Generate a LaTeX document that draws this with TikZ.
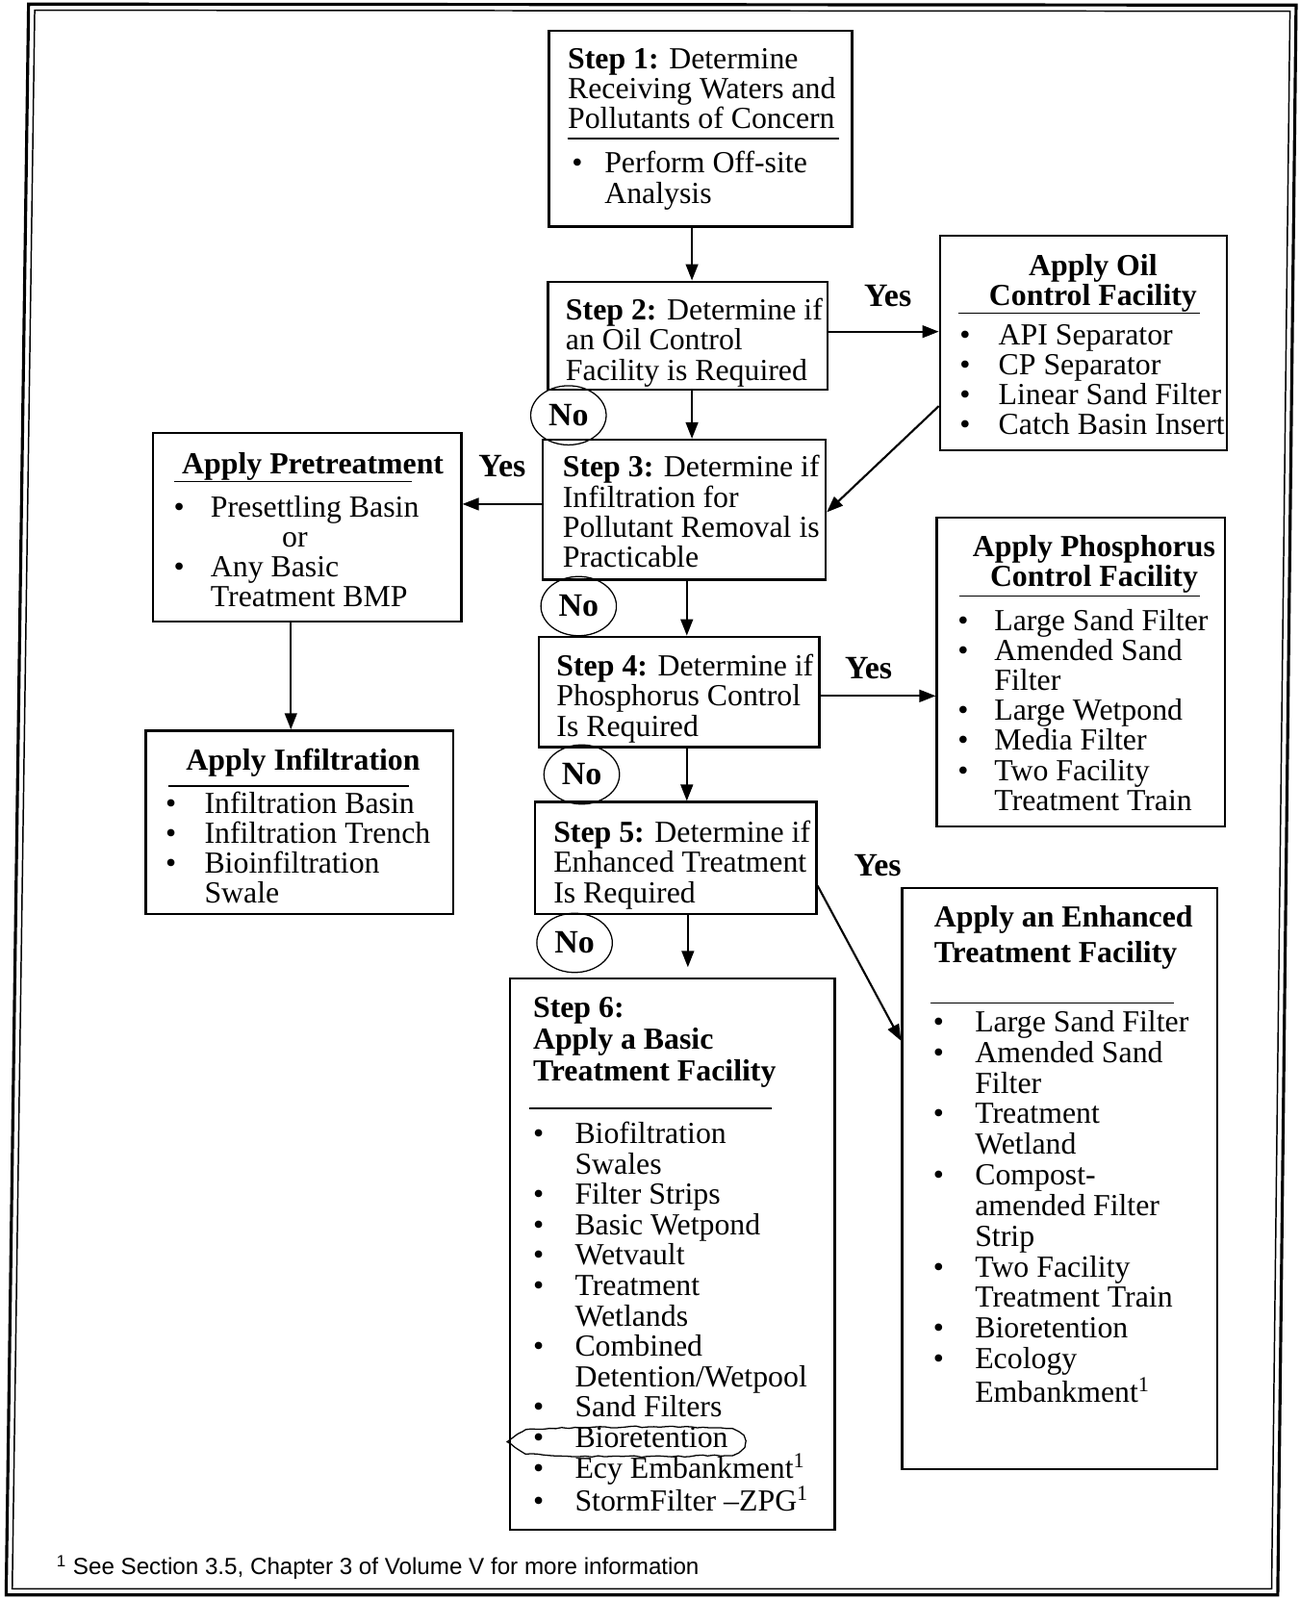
\documentclass[tikz,border=0pt]{standalone}
\usepackage{fontspec}
\setmainfont{Liberation Serif}
\setsansfont{Liberation Sans}
\usetikzlibrary{arrows.meta,shapes.geometric,fit,decorations.pathmorphing}
\newcommand{\itemdot}[1][18pt]{\makebox[#1][l]{\textbullet}}
\newcommand{\itemgap}[1][18pt]{\hspace*{#1}}
\tikzset{
  >={Triangle[length=8pt,width=6pt]},
  frame/.style={draw,line width=1.1pt,inner sep=0pt},
  txt/.style={anchor=north west,inner sep=0pt,align=left,font=\fontsize{15}{14.75}\selectfont},
  head/.style={txt,font=\bfseries\fontsize{15}{14.75}\selectfont},
  flow/.style={->,line width=1pt},
  sep/.style={line width=0.8pt},
  yes/.style={font=\bfseries\fontsize{16}{16}\selectfont,inner sep=0pt},
  nocirc/.style={draw,ellipse,line width=0.6pt,minimum width=37pt,minimum height=29pt,inner sep=0pt,font=\bfseries\fontsize{16}{16}\selectfont}
}
\begin{document}
\begin{tikzpicture}[x=0.5pt,y=-0.5pt]
\useasboundingbox (0,0) rectangle (1273,1568);
% page frame
\draw[line width=1.5pt] (28,4) -- (1270,5) -- (1252,1563) -- (6,1563) -- cycle;
\draw[line width=0.7pt] (34,10) -- (1264,11) -- (1246,1557) -- (12,1557) -- cycle;

% steps down the middle
\node[frame,fit={(538,30)(835,222)}](s1){};
\node[txt](s1head) at (556,47) {\textbf{Step 1:} Determine\\Receiving Waters and\\Pollutants of Concern};
\draw[sep] (556,136) -- (822,136);
\node[txt](s1list) at (560,148) {\itemdot[16pt]Perform Off-site\\\itemgap[16pt]Analysis};

\node[frame,fit={(537,276)(811,382)}](s2){};
\node[txt](s2txt) at (554,292) {\textbf{Step 2:} Determine if\\an Oil Control\\Facility is Required};

\node[frame,fit={(532,431)(809,568)}](s3){};
\node[txt](s3txt) at (551,446) {\textbf{Step 3:} Determine if\\Infiltration for\\Pollutant Removal is\\Practicable};

\node[frame,fit={(528,624)(803,732)}](s4){};
\node[txt](s4txt) at (545,641) {\textbf{Step 4:} Determine if\\Phosphorus Control\\Is Required};

\node[frame,fit={(524,786)(800,896)}](s5){};
\node[txt](s5txt) at (542,804) {\textbf{Step 5:} Determine if\\Enhanced Treatment\\Is Required};

\node[frame,fit={(500,959)(818,1499)}](s6){};
\node[head,font=\bfseries\fontsize{15}{15.5}\selectfont](s6head) at (522,977) {Step 6:\\Apply a Basic\\Treatment Facility};
\draw[sep] (519,1086) -- (756,1086);
\node[txt,font=\fontsize{15}{14.9}\selectfont](s6list) at (522,1099) {\itemdot[20.5pt]Biofiltration\\\itemgap[20.5pt]Swales\\
  \itemdot[20.5pt]Filter Strips\\\itemdot[20.5pt]Basic Wetpond\\\itemdot[20.5pt]Wetvault\\
  \itemdot[20.5pt]Treatment\\\itemgap[20.5pt]Wetlands\\\itemdot[20.5pt]Combined\\\itemgap[20.5pt]Detention/Wetpool\\
  \itemdot[20.5pt]Sand Filters\\\itemdot[20.5pt]Bioretention\\\itemdot[20.5pt]Ecy Embankment\textsuperscript{1}\\
  \itemdot[20.5pt]StormFilter --ZPG\textsuperscript{1}};
\draw[line width=0.6pt,decorate,decoration={random steps,segment length=3pt,amplitude=0.4pt}]
  (497,1413) -- (515,1401) .. controls (600,1397) and (680,1398) .. (712,1400)
  .. controls (735,1402) and (735,1424) .. (712,1426) .. controls (650,1428) and (560,1428) .. (515,1425) -- cycle;

% facilities on the right
\node[frame,fit={(921,231)(1202,441)}](oil){};
\node[head,anchor=north,align=center,font=\bfseries\fontsize{15}{14.5}\selectfont](oilhead) at (1071,249) {Apply Oil\\Control Facility};
\draw[sep] (939,307) -- (1176,307);
\node[txt,font=\fontsize{15}{14.5}\selectfont](oillist) at (940,318) {\itemdot[19pt]API Separator\\\itemdot[19pt]CP Separator\\
  \itemdot[19pt]Linear Sand Filter\\\itemdot[19pt]Catch Basin Insert};

\node[frame,fit={(918,507)(1200,810)}](phos){};
\node[head,anchor=north,align=center,font=\bfseries\fontsize{15}{14.5}\selectfont](phoshead) at (1072,524) {Apply Phosphorus\\Control Facility};
\draw[sep] (940,584) -- (1176,584);
\node[txt,font=\fontsize{15}{14.65}\selectfont](phoslist) at (938,597) {\itemdot[18pt]Large Sand Filter\\\itemdot[18pt]Amended Sand\\\itemgap[18pt]Filter\\
  \itemdot[18pt]Large Wetpond\\\itemdot[18pt]Media Filter\\\itemdot[18pt]Two Facility\\\itemgap[18pt]Treatment Train};

\node[frame,fit={(884,870)(1193,1440)}](enh){};
\node[head,font=\bfseries\fontsize{15}{17.5}\selectfont](enhhead) at (915,887) {Apply an Enhanced\\Treatment Facility};
\draw[sep] (912,983) -- (1150,983);
\node[txt,font=\fontsize{15}{15}\selectfont](enhlist) at (914,990) {\itemdot[20.5pt]Large Sand Filter\\\itemdot[20.5pt]Amended Sand\\\itemgap[20.5pt]Filter\\
  \itemdot[20.5pt]Treatment\\\itemgap[20.5pt]Wetland\\\itemdot[20.5pt]Compost-\\\itemgap[20.5pt]amended Filter\\\itemgap[20.5pt]Strip\\
  \itemdot[20.5pt]Two Facility\\\itemgap[20.5pt]Treatment Train\\\itemdot[20.5pt]Bioretention\\\itemdot[20.5pt]Ecology\\
  \itemgap[20.5pt]Embankment\textsuperscript{1}};

% infiltration branch on the left
\node[frame,fit={(150,424)(452,609)}](pre){};
\node[head](prehead) at (178,443) {Apply Pretreatment};
\draw[sep] (171,472) -- (404,472);
\node[txt,font=\fontsize{15}{14.5}\selectfont](prelist) at (170,486) {\itemdot Presettling Basin\\\hspace*{53pt}or\\
  \itemdot Any Basic\\\itemgap Treatment BMP};

\node[frame,fit={(143,716)(444,896)}](inf){};
\node[head](infhead) at (182,733) {Apply Infiltration};
\draw[sep] (165,770) -- (401,770);
\node[txt,font=\fontsize{15}{14.5}\selectfont](inflist) at (162,776) {\itemdot[19pt]Infiltration Basin\\\itemdot[19pt]Infiltration Trench\\
  \itemdot[19pt]Bioinfiltration\\\itemgap[19pt]Swale};

% yes / no labels
\node[yes](y2) at (870,290) {Yes};
\node[yes](y3) at (492,457) {Yes};
\node[yes](y4) at (851,655) {Yes};
\node[yes](y5) at (860,848) {Yes};
\node[nocirc](n2) at (557,407) {No};
\node[nocirc](n3) at (567,594) {No};
\node[nocirc](n4) at (570,759) {No};
\node[nocirc](n5) at (563,924) {No};

% connectors
\draw[flow] (s1.south -| 678,0) -- (s2.north -| 678,0);
\draw[flow] (s2.east |- 0,325) -- (oil.west |- 0,325);
\draw[flow] (s2.south -| 678,0) -- (s3.north -| 678,0);
\draw[flow] (oil.west |- 0,398) -- (s3.east |- 0,502);
\draw[flow] (s3.west |- 0,494) -- (pre.east |- 0,494);
\draw[flow] (s3.south -| 673,0) -- (s4.north -| 673,0);
\draw[flow] (s4.east |- 0,682) -- (phos.west |- 0,682);
\draw[flow] (s4.south -| 673,0) -- (s5.north -| 673,0);
\draw[flow,shorten >=5pt] (s5.south -| 674,0) -- (s6.north -| 674,0);
\draw[flow] (s5.east |- 0,868) -- (enh.west |- 0,1020);
\draw[flow] (pre.south -| 285,0) -- (inf.north -| 285,0);

% footnote
\node[anchor=base west,inner sep=0pt,font=\sffamily\fontsize{11.4}{12}\selectfont](note) at (55,1543) {\textsuperscript{1} See Section 3.5, Chapter 3 of Volume V for more information};
\end{tikzpicture}
\end{document}
